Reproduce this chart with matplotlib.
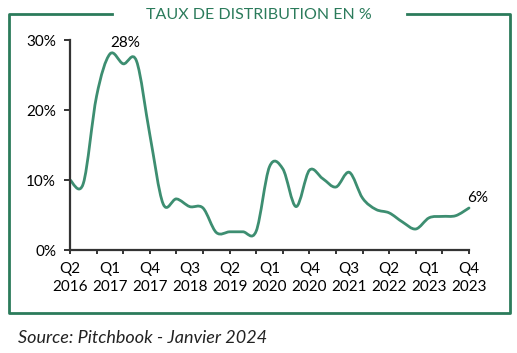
import matplotlib.pyplot as plt
from matplotlib.path import Path
from matplotlib.patches import PathPatch
from matplotlib.lines import Line2D

plt.rcParams['font.family'] = ['Lato', 'DejaVu Sans']

# quarterly distribution rate (%), Q2 2016 .. Q4 2023
rates = [10.0, 9.5, 22.0, 28.0, 26.6, 27.0, 16.5, 6.6, 7.3, 6.2,
         6.0, 2.5, 2.6, 2.6, 2.7, 11.9, 11.6, 6.2, 11.4, 10.2,
         9.0, 11.1, 7.4, 5.8, 5.3, 4.0, 3.0, 4.6, 4.8, 4.9, 6.0]
tick_labels = ["Q2\n2016", "Q1\n2017", "Q4\n2017", "Q3\n2018", "Q2\n2019", "Q1\n2020",
               "Q4\n2020", "Q3\n2021", "Q2\n2022", "Q1\n2023", "Q4\n2023"]
y_ticks = [0, 10, 20, 30]

GREEN = '#2b7b5b'
LINE = '#3d8e71'

fig = plt.figure(figsize=(5.17, 3.53), dpi=100)
ax = fig.add_axes([70 / 517, 1 - 250 / 353, 399 / 517, 210 / 353])

x = list(range(len(rates)))
# smooth line through the points (Catmull-Rom as cubic Bezier)
verts = [(x[0], rates[0])]
codes = [Path.MOVETO]
n = len(rates)
for i in range(n - 1):
    p0 = (x[max(i - 1, 0)], rates[max(i - 1, 0)])
    p1 = (x[i], rates[i])
    p2 = (x[i + 1], rates[i + 1])
    p3 = (x[min(i + 2, n - 1)], rates[min(i + 2, n - 1)])
    c1 = (p1[0] + (p2[0] - p0[0]) / 6, p1[1] + (p2[1] - p0[1]) / 6)
    c2 = (p2[0] - (p3[0] - p1[0]) / 6, p2[1] - (p3[1] - p1[1]) / 6)
    verts += [c1, c2, p2]
    codes += [Path.CURVE4] * 3
ax.add_patch(PathPatch(Path(verts, codes), facecolor='none', edgecolor=LINE,
                       lw=2.0, capstyle='round', joinstyle='round', clip_on=False))

ax.set_xlim(0, 30)
ax.set_ylim(0, 30)
for s in ['top', 'right']:
    ax.spines[s].set_visible(False)
for s in ['left', 'bottom']:
    ax.spines[s].set_color('#333333')
    ax.spines[s].set_linewidth(1.6)

ax.set_yticks(y_ticks, [f"{v}%" for v in y_ticks])
ax.tick_params(axis='y', length=4, width=1.4, color='#333333', labelsize=11, pad=6)
ax.xaxis.remove_overlapping_locs = False
ax.set_xticks(range(0, 31, 2), [''] * 16)
ax.tick_params(axis='x', which='major', length=3, width=1.4, color='#333333')
ax.set_xticks(range(0, 31, 3), tick_labels, minor=True)
ax.tick_params(axis='x', which='minor', length=0, labelsize=11, pad=9)
for lab in ax.get_xticklabels(minor=True):
    lab.set_linespacing(1.3)

ax.annotate(f"{rates[3]:.0f}%", (3, rates[3]), xytext=(11, 8), textcoords='offset points',
            ha='center', va='center', fontsize=11)
ax.annotate(f"{rates[-1]:.0f}%", (30, rates[-1]), xytext=(6, 7), textcoords='offset points',
            ha='center', va='center', fontsize=11)

# green frame with title gap
W, H = 517, 353
def fl(xs, ys):
    fig.add_artist(Line2D([v / W for v in xs], [1 - v / H for v in ys],
                          color=GREEN, lw=2, transform=fig.transFigure))
fl([112, 9, 9, 510, 510, 407], [14, 14, 312.5, 312.5, 14, 14])
fig.text(259 / W, 1 - 15 / H, "TAUX DE DISTRIBUTION EN %", color=GREEN,
         ha='center', va='center', fontsize=11.5)

fig.text(18 / W, 1 - 338 / H, "Source: Pitchbook - Janvier 2024", fontstyle='italic',
         ha='left', va='center', fontsize=13, color='#222222')

fig.savefig('out.png', dpi=100)
